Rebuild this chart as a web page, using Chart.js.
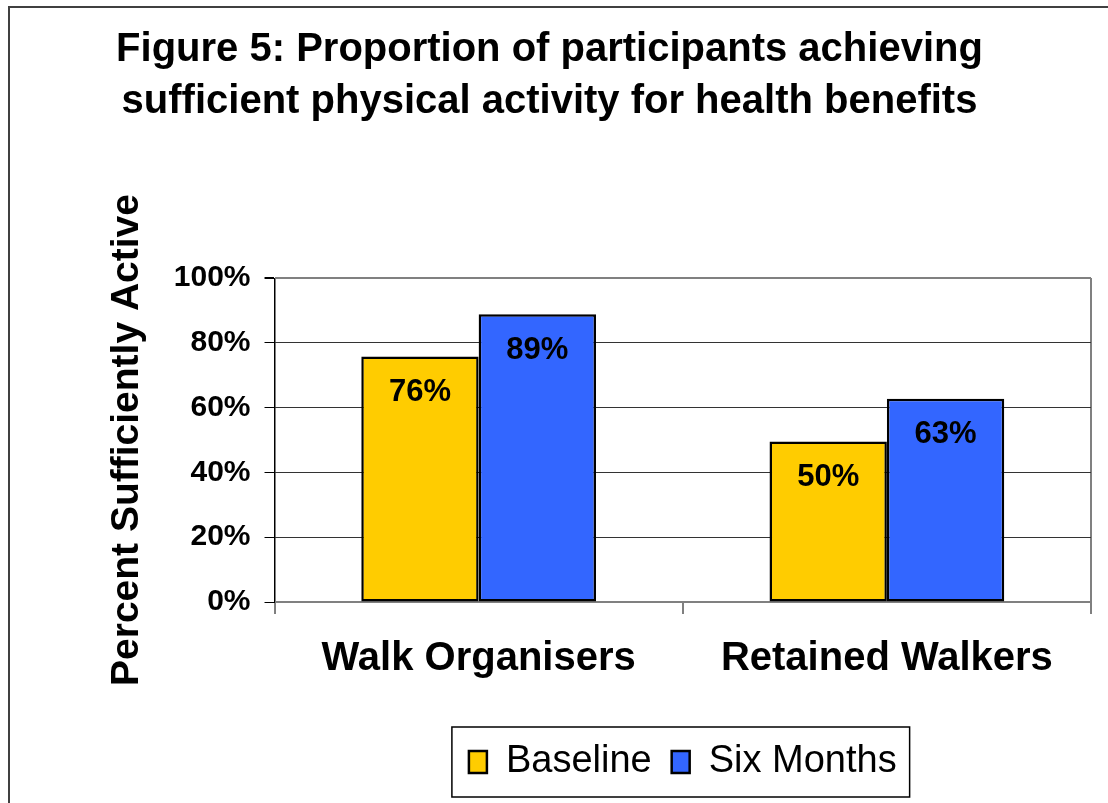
<!DOCTYPE html>
<html>
<head>
<meta charset="utf-8">
<script src="https://cdn.jsdelivr.net/npm/chart.js@4.4.1/dist/chart.umd.min.js"></script>
<style>
  html, body { margin: 0; padding: 0; background: #fff; }
  #wrap { width: 1108px; height: 803px; }
</style>
</head>
<body>
<div id="wrap"><canvas id="chart-1"></canvas></div>
<script>
const categories = ['Walk Organisers', 'Retained Walkers'];
const baseline = [75.8, 49.5];
const sixMonths = [88.8, 62.7];
const yTicks = [0, 20, 40, 60, 80, 100];

const FONT = "'Liberation Sans', Arial, sans-serif";

// frame round the whole figure (only left and top edges are visible)
const framePlugin = {
  id: 'frame',
  beforeDraw(chart) {
    const c = chart.ctx;
    c.save();
    c.strokeStyle = '#404040';
    c.lineWidth = 2;
    c.strokeRect(9, 7, 2000, 2000);
    c.restore();
  }
};

// percentage labels inside the bars
const barLabels = {
  id: 'barLabels',
  afterDatasetsDraw(chart) {
    const c = chart.ctx;
    c.save();
    c.font = 'bold 31px ' + FONT;
    c.fillStyle = '#000';
    c.textAlign = 'center';
    c.textBaseline = 'middle';
    chart.data.datasets.forEach((ds, i) => {
      chart.getDatasetMeta(i).data.forEach((bar, j) => {
        c.fillText(Math.round(ds.data[j]) + '%', bar.x, bar.y + 36);
      });
    });
    c.restore();
  }
};

// box round the legend
const legendBox = {
  id: 'legendBox',
  afterDraw(chart) {
    const hb = chart.legend.legendHitBoxes;
    if (!hb || !hb.length) return;
    const first = hb[0], last = hb[hb.length - 1];
    const cy = first.top + first.height / 2;
    const c = chart.ctx;
    c.save();
    c.strokeStyle = '#000';
    c.lineWidth = 1.5;
    c.strokeRect(first.left - 17, cy - 35, last.left + last.width - first.left + 30, 70);
    c.restore();
  }
};

new Chart(document.getElementById('chart-1'), {
  type: 'bar',
  data: {
    labels: categories,
    datasets: [{
      label: 'Baseline',
      data: baseline,
      backgroundColor: '#FFCC00',
      borderColor: '#000',
      borderWidth: 2.5,
      borderSkipped: false
    }, {
      label: 'Six Months',
      data: sixMonths,
      backgroundColor: '#3366FF',
      borderColor: '#000',
      borderWidth: 2.5,
      borderSkipped: false
    }]
  },
  options: {
    responsive: true,
    maintainAspectRatio: false,
    animation: false,
    datasets: {
      bar: { categoryPercentage: 0.575, barPercentage: 1 }
    },
    layout: { padding: { left: 8, right: 17, top: 0, bottom: 12 } },
    plugins: {
      title: {
        display: true,
        text: ['Figure 5: Proportion of participants achieving', 'sufficient physical activity for health benefits'],
        color: '#000',
        font: { family: FONT, size: 40, weight: 'bold', lineHeight: 52 / 40 },
        padding: { top: 24, bottom: 150 }
      },
      legend: {
        position: 'bottom',
        fullSize: false,
        labels: {
          color: '#000',
          font: { family: FONT, size: 38 },
          boxWidth: 18,
          boxHeight: 22,
          padding: 20
        }
      },
      tooltip: { enabled: false }
    },
    scales: {
      x: {
        afterFit: scale => { scale.height += 19; },
        grid: {
          offset: true,
          drawOnChartArea: true,
          color: ctx => ctx.index === 1 ? 'rgba(0,0,0,0)' : '#808080',
          lineWidth: 2,
          tickColor: '#000',
          tickWidth: 1,
          tickLength: 12
        },
        border: { color: '#808080', width: 2 },
        ticks: {
          color: '#000',
          font: { family: FONT, size: 40, weight: 'bold' },
          padding: 21
        }
      },
      y: {
        min: 0,
        max: 100,
        afterBuildTicks: scale => { scale.ticks = yTicks.map(v => ({ value: v })); },
        grid: {
          color: ctx => (ctx.tick && (ctx.tick.value === 100)) ? '#808080' : '#333',
          lineWidth: ctx => (ctx.tick && ctx.tick.value === 100) ? 2 : 1,
          tickColor: '#000',
          tickLength: 10
        },
        border: { color: '#000', width: 1 },
        ticks: {
          color: '#000',
          font: { family: FONT, size: 30, weight: 'bold' },
          padding: 14,
          callback: v => v + '%'
        },
        title: {
          display: true,
          text: 'Percent Sufficiently Active',
          color: '#000',
          font: { family: FONT, size: 39, weight: 'bold' },
          padding: { top: 96, bottom: 9 }
        }
      }
    }
  },
  plugins: [framePlugin, barLabels, legendBox]
});
</script>
</body>
</html>
